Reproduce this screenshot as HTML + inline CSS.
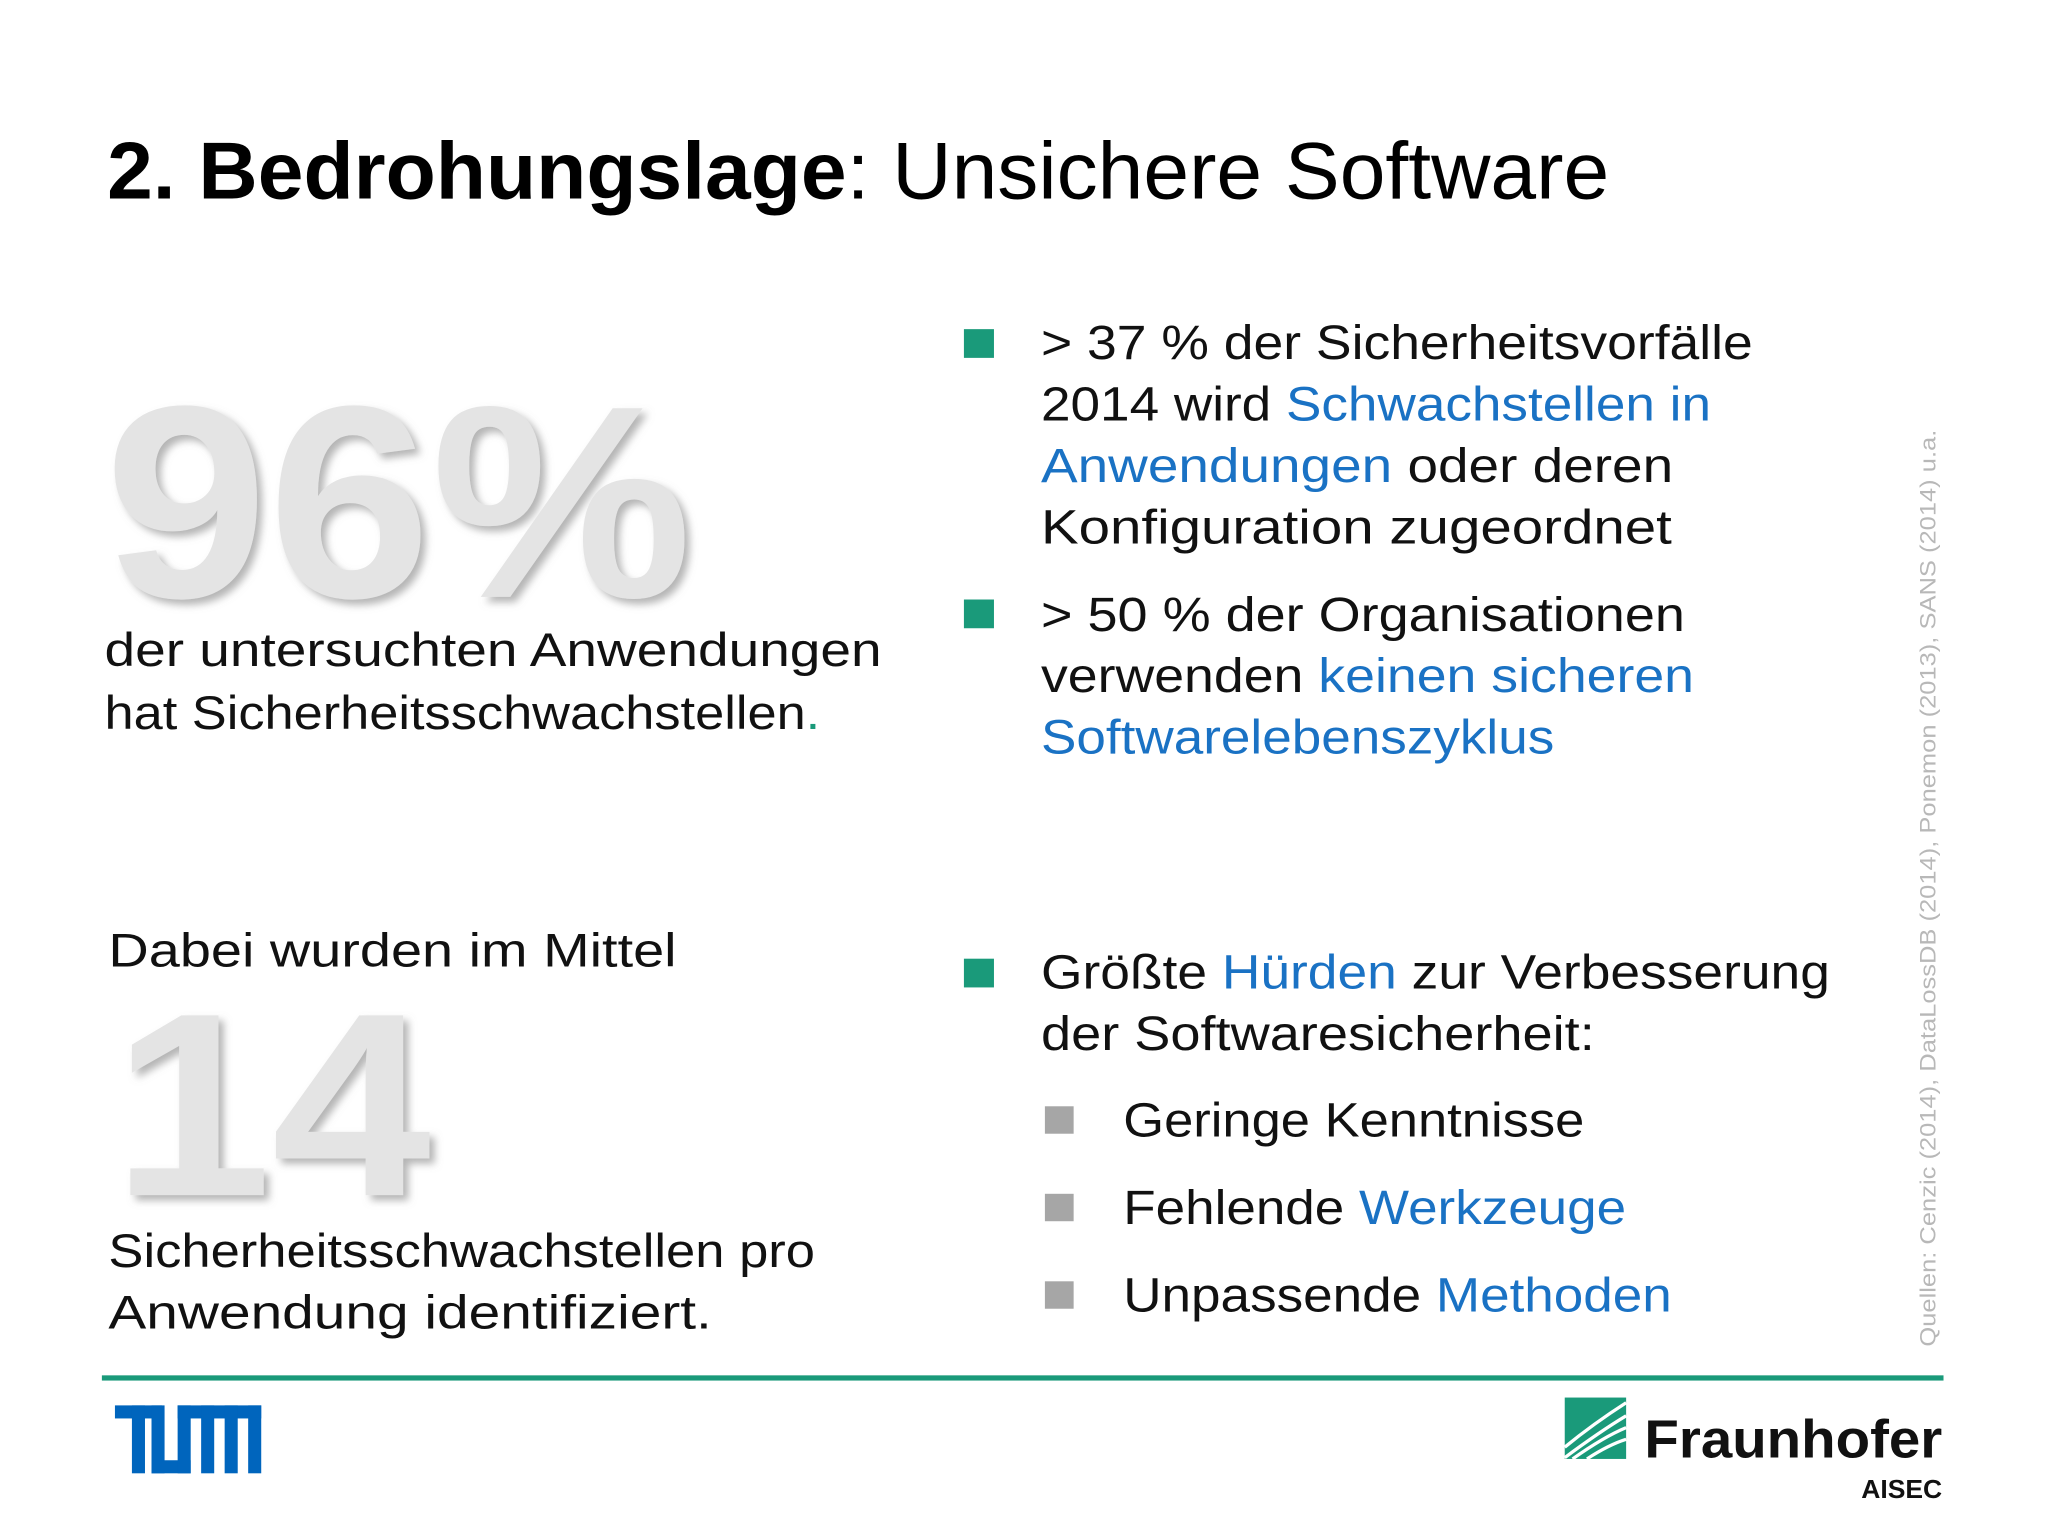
<!DOCTYPE html>
<html><head><meta charset="utf-8"><style>html,body{margin:0;padding:0;background:#fff}svg{display:block}</style></head>
<body>
<svg width="2048" height="1536" viewBox="0 0 1568 1176" xmlns="http://www.w3.org/2000/svg" font-family="Liberation Sans, DejaVu Sans, sans-serif">
<defs>
<filter id="sh" x="-10%" y="-10%" width="130%" height="130%"><feDropShadow dx="4" dy="4" stdDeviation="3" flood-color="#777" flood-opacity="0.55"/></filter>
</defs>
<rect width="1568" height="1176" fill="#fff"/>
<text x="82" y="152" font-size="62" textLength="1150" lengthAdjust="spacingAndGlyphs" fill="#000"><tspan font-weight="bold">2. Bedrohungslage</tspan>: Unsichere Software</text>

<text x="80" y="457" font-size="210" font-weight="bold" fill="#e4e4e4" filter="url(#sh)" textLength="450" lengthAdjust="spacingAndGlyphs">96%</text>
<text x="80" y="510" font-size="36" textLength="595" lengthAdjust="spacingAndGlyphs" fill="#111">der untersuchten Anwendungen</text>
<text x="80" y="558" font-size="36" textLength="548" lengthAdjust="spacingAndGlyphs" fill="#111">hat Sicherheitsschwachstellen<tspan fill="#1a9a7a">.</tspan></text>

<text x="83" y="740" font-size="36" textLength="435" lengthAdjust="spacingAndGlyphs" fill="#111">Dabei wurden im Mittel</text>
<text x="86" y="915" font-size="200" font-weight="bold" fill="#e4e4e4" filter="url(#sh)" textLength="244" lengthAdjust="spacingAndGlyphs">14</text>
<text x="83" y="970" font-size="36" textLength="541" lengthAdjust="spacingAndGlyphs" fill="#111">Sicherheitsschwachstellen pro</text>
<text x="83" y="1017" font-size="36" textLength="462" lengthAdjust="spacingAndGlyphs" fill="#111">Anwendung identifiziert.</text>

<g font-size="37" fill="#111">
<rect x="738" y="252" width="23" height="22" fill="#1a9a7a"/>
<text x="797" y="275" textLength="545" lengthAdjust="spacingAndGlyphs">&gt; 37 % der Sicherheitsvorfälle</text>
<text x="797" y="322" textLength="513" lengthAdjust="spacingAndGlyphs">2014 wird <tspan fill="#1a72c4">Schwachstellen in</tspan></text>
<text x="797" y="369" textLength="484" lengthAdjust="spacingAndGlyphs"><tspan fill="#1a72c4">Anwendungen</tspan> oder deren</text>
<text x="797" y="416" textLength="483" lengthAdjust="spacingAndGlyphs">Konfiguration zugeordnet</text>

<rect x="738" y="459" width="23" height="22" fill="#1a9a7a"/>
<text x="797" y="483" textLength="493" lengthAdjust="spacingAndGlyphs">&gt; 50 % der Organisationen</text>
<text x="797" y="530" textLength="500" lengthAdjust="spacingAndGlyphs">verwenden <tspan fill="#1a72c4">keinen sicheren</tspan></text>
<text x="797" y="577" textLength="393" lengthAdjust="spacingAndGlyphs" fill="#1a72c4">Softwarelebenszyklus</text>

<rect x="738" y="734" width="23" height="22" fill="#1a9a7a"/>
<text x="797" y="757" textLength="604" lengthAdjust="spacingAndGlyphs">Größte <tspan fill="#1a72c4">Hürden</tspan> zur Verbesserung</text>
<text x="797" y="804" textLength="424" lengthAdjust="spacingAndGlyphs">der Softwaresicherheit:</text>

<rect x="800" y="847" width="22" height="21" fill="#a6a6a6"/>
<text x="860" y="870" textLength="353" lengthAdjust="spacingAndGlyphs">Geringe Kenntnisse</text>
<rect x="800" y="914" width="22" height="21" fill="#a6a6a6"/>
<text x="860" y="937" textLength="385" lengthAdjust="spacingAndGlyphs">Fehlende <tspan fill="#1a72c4">Werkzeuge</tspan></text>
<rect x="800" y="981" width="22" height="21" fill="#a6a6a6"/>
<text x="860" y="1004" textLength="420" lengthAdjust="spacingAndGlyphs">Unpassende <tspan fill="#1a72c4">Methoden</tspan></text>
</g>

<text transform="translate(1482,1031) rotate(-90)" font-size="17" fill="#b8b8b8" textLength="702" lengthAdjust="spacingAndGlyphs">Quellen: Cenzic (2014), DataLossDB (2014), Ponemon (2013), SANS (2014) u.a.</text>

<rect x="78" y="1053" width="1410" height="4" fill="#1a9a7a"/>

<g fill="#0065bd">
<rect x="88" y="1076" width="36" height="10"/>
<rect x="101" y="1076" width="10" height="52"/>
<rect x="116" y="1076" width="10" height="52"/>
<rect x="116" y="1118" width="30" height="10"/>
<rect x="136" y="1076" width="10" height="52"/>
<rect x="136" y="1076" width="64" height="10"/>
<rect x="154" y="1076" width="10" height="52"/>
<rect x="172" y="1076" width="10" height="52"/>
<rect x="190" y="1076" width="10" height="52"/>
</g>

<g>
<rect x="1198" y="1070" width="47" height="47" fill="#1a9a7a"/>
<path d="M1198 1108 Q1220 1090 1245 1074 M1198 1116 Q1225 1096 1245 1084 M1204 1117 Q1228 1100 1245 1093 M1215 1117 Q1232 1106 1245 1102" stroke="#fff" stroke-width="2.5" fill="none"/>
<text x="1259" y="1116" font-size="41" font-weight="bold" fill="#111" textLength="228" lengthAdjust="spacingAndGlyphs">Fraunhofer</text>
<text x="1425" y="1147" font-size="20" font-weight="bold" fill="#111" textLength="62" lengthAdjust="spacingAndGlyphs">AISEC</text>
</g>
</svg>
</body></html>
